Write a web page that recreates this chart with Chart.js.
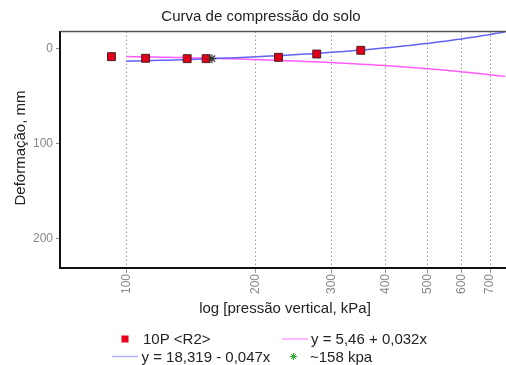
<!DOCTYPE html>
<html>
<head>
<meta charset="utf-8">
<script src="https://cdn.jsdelivr.net/npm/chart.js@4/dist/chart.umd.min.js"></script>
<style>
  html, body { margin: 0; padding: 0; background: #fff; }
  #wrap { width: 506px; height: 365px; }
</style>
</head>
<body>
<div id="wrap"><canvas id="chartContainer" width="506" height="365"></canvas></div>
<script>
// measured points (pressure kPa / deformation mm)
var pressures = [92.3, 110.8, 138.4, 153.2, 225.6, 276.8, 350.4];
var deformations = [8.8, 10.5, 10.9, 10.9, 9.5, 6.0, 2.1];

// fitted lines, as given in the legend
var fitA = [18.319, -0.047];   // y = 18,319 - 0,047x
var fitB = [5.46, 0.032];      // y = 5,46 + 0,032x
var fitFrom = 100, fitTo = 735, fitEnd = 760;

// intersection marker
var markerX = [158];
var markerY = [10.9];

var xTicks = [100, 200, 300, 400, 500, 600, 700];
var yTicks = [0, 100, 200];

var fontName = "'Liberation Sans', Arial, sans-serif";

function fitPoints(coef) {
  var pts = [];
  for (var x = fitFrom; x <= fitTo; x += 5) {
    pts.push({ x: x, y: coef[0] + coef[1] * x });
  }
  // one point past the axis so the line reaches the canvas edge
  pts.push({ x: fitEnd, y: coef[0] + coef[1] * fitEnd });
  return pts;
}

var measured = pressures.map(function (p, i) { return { x: p, y: deformations[i] }; });
var marker = markerX.map(function (p, i) { return { x: p, y: markerY[i] }; });

// title, axis titles, frame and legend
var decorations = {
  id: 'decorations',
  afterDraw: function (chart) {
    var ctx = chart.ctx, area = chart.chartArea, w = chart.width;
    ctx.save();

    // frame runs on to the canvas edge
    ctx.strokeStyle = '#555';
    ctx.lineWidth = 1.5;
    ctx.beginPath();
    ctx.moveTo(area.left, area.top);
    ctx.lineTo(w, area.top);
    ctx.stroke();
    ctx.strokeStyle = '#111';
    ctx.lineWidth = 2;
    ctx.beginPath();
    ctx.moveTo(area.right - 1, area.bottom);
    ctx.lineTo(w, area.bottom);
    ctx.stroke();

    ctx.fillStyle = '#222';
    ctx.textAlign = 'center';
    ctx.textBaseline = 'alphabetic';
    ctx.font = '15px ' + fontName;
    ctx.fillText('Curva de compressão do solo', 261, 21);
    ctx.fillText('log [pressão vertical, kPa]', 285, 313);

    ctx.save();
    ctx.translate(25, 148);
    ctx.rotate(-Math.PI / 2);
    ctx.fillText('Deformação, mm', 0, 0);
    ctx.restore();

    // legend
    ctx.textAlign = 'left';
    ctx.textBaseline = 'middle';
    var r1 = 339, r2 = 356.5;

    ctx.fillStyle = '#e8001c';
    ctx.fillRect(121.5, r1 - 3.5, 7, 7);
    ctx.fillStyle = '#222';
    ctx.fillText('10P <R2>', 143, r1 + 1);

    ctx.strokeStyle = '#ffa0ff';
    ctx.lineWidth = 1.5;
    ctx.beginPath();
    ctx.moveTo(282, r1); ctx.lineTo(308, r1);
    ctx.stroke();
    ctx.fillText('y = 5,46 + 0,032x', 311, r1 + 1);

    ctx.strokeStyle = '#b0b0ff';
    ctx.beginPath();
    ctx.moveTo(112, r2); ctx.lineTo(138, r2);
    ctx.stroke();
    ctx.fillText('y = 18,319 - 0,047x', 141.5, r2 + 1);

    ctx.strokeStyle = '#22b022';
    ctx.lineWidth = 1;
    ctx.beginPath();
    var sx = 293.5, sy = r2, s = 3.5;
    ctx.moveTo(sx - s, sy); ctx.lineTo(sx + s, sy);
    ctx.moveTo(sx, sy - s); ctx.lineTo(sx, sy + s);
    ctx.moveTo(sx - s * 0.7, sy - s * 0.7); ctx.lineTo(sx + s * 0.7, sy + s * 0.7);
    ctx.moveTo(sx - s * 0.7, sy + s * 0.7); ctx.lineTo(sx + s * 0.7, sy - s * 0.7);
    ctx.stroke();
    ctx.fillText('~158 kpa', 310, r2 + 1);

    ctx.restore();
  }
};

var ctx = document.getElementById('chartContainer').getContext('2d');
new Chart(ctx, {
  type: 'scatter',
  data: {
    datasets: [
      {
        label: 'y = 5,46 + 0,032x',
        data: fitPoints(fitB),
        showLine: true,
        borderColor: '#ff5cff',
        borderWidth: 1.5,
        pointRadius: 0,
        clip: { left: 0, top: 0, right: 6, bottom: 0 },
        order: 3
      },
      {
        label: 'y = 18,319 - 0,047x',
        data: fitPoints(fitA),
        showLine: true,
        borderColor: '#6262f4',
        borderWidth: 1.5,
        pointRadius: 0,
        clip: { left: 0, top: 0, right: 6, bottom: 0 },
        order: 2
      },
      {
        label: '10P <R2>',
        data: measured,
        pointStyle: 'rect',
        pointRadius: 5.6,
        backgroundColor: '#e0001a',
        borderColor: '#4a2020',
        borderWidth: 1,
        order: 1
      },
      {
        label: '~158 kpa',
        data: marker,
        pointStyle: 'star',
        pointRadius: 4.5,
        borderColor: '#2c3a2c',
        borderWidth: 1.2,
        order: 0
      }
    ]
  },
  options: {
    responsive: false,
    animation: false,
    layout: { padding: { top: 31.5, left: 0, right: 0, bottom: 0 } },
    plugins: {
      legend: { display: false },
      title: { display: false },
      tooltip: { enabled: false }
    },
    scales: {
      x: {
        type: 'logarithmic',
        min: 70.09,
        max: 735.6,
        afterBuildTicks: function (scale) {
          scale.ticks = xTicks.map(function (v) { return { value: v }; });
        },
        afterFit: function (scale) {
          scale.height = 97;
          scale.paddingLeft = 0;
          scale.paddingRight = 0;
        },
        ticks: {
          autoSkip: false,
          minRotation: 90,
          maxRotation: 90,
          color: '#888',
          padding: 1,
          font: { family: fontName, size: 12 },
          callback: function (v) { return String(v); }
        },
        grid: {
          color: '#999',
          lineWidth: 1,
          tickLength: 5
        },
        border: { color: '#111', width: 2, dash: [1.5, 2.5] }
      },
      y: {
        reverse: true,
        min: -17.7,
        max: 231.3,
        afterBuildTicks: function (scale) {
          scale.ticks = yTicks.map(function (v) { return { value: v }; });
        },
        afterFit: function (scale) {
          scale.width = 60;
          scale.paddingTop = 0;
          scale.paddingBottom = 0;
        },
        ticks: {
          color: '#888',
          padding: 3,
          font: { family: fontName, size: 12 }
        },
        grid: {
          drawOnChartArea: false,
          color: '#888',
          tickLength: 4
        },
        border: { color: '#111', width: 2 }
      }
    }
  },
  plugins: [decorations]
});
</script>
</body>
</html>
